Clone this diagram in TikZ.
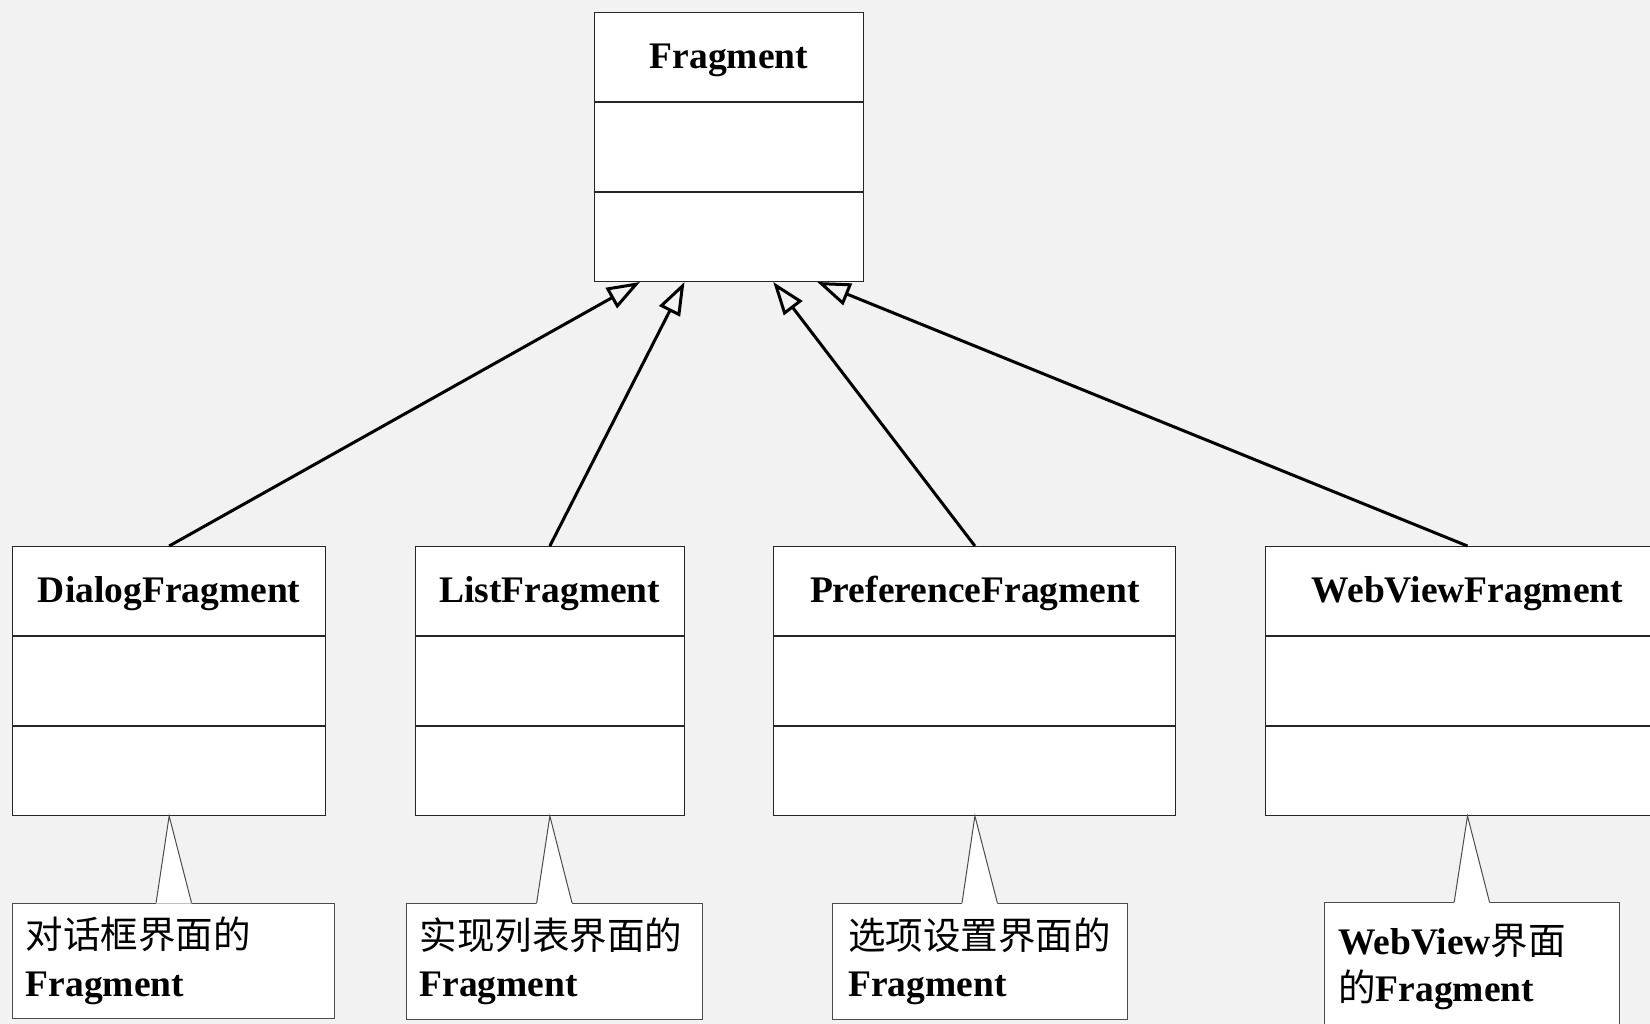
\documentclass[tikz,border=0pt]{standalone}
\usepackage{fontspec}
\setmainfont{Liberation Serif}
\newfontfamily\cjk{Noto Sans CJK SC}
\newcommand\zh[1]{{\cjk\mdseries #1}}
\usetikzlibrary{arrows.meta,calc}
\definecolor{bgc}{HTML}{F2F2F2}
\begin{document}
\begin{tikzpicture}[x=1pt,y=-1pt,
  every node/.style={font=\fontsize{37.5}{47.5}\selectfont\bfseries},
  row/.style={draw=black!85, line width=1pt, fill=white, anchor=north west, inner sep=0pt, minimum height=89pt, text height=26pt, text depth=3.6pt},
  note/.style={draw=black!70, line width=1pt, fill=white, anchor=north west, inner xsep=13pt, inner ysep=0pt, align=left, minimum height=115.5pt},
  gen/.style={line width=3pt, -{Triangle[open,length=33pt,width=23pt]}},
  tail/.style={draw=black!70, line width=1pt}
]
\path[use as bounding box, clip] (0,0) rectangle (1650,1024);
\fill[bgc] (0,0) rectangle (1650,1024);

% top class
\node[row, minimum width=269pt] (topT) at (594,12) {Fragment};
\node[row, minimum width=269pt] (topA) at (topT.south west) {};
\node[row, minimum width=269pt] (topO) at (topA.south west) {};

% subclasses
\node[row, minimum width=313.3pt] (dT) at (12,546) {DialogFragment};
\node[row, minimum width=313.3pt] (dA) at (dT.south west) {};
\node[row, minimum width=313.3pt] (dO) at (dA.south west) {};

\node[row, minimum width=268.7pt] (lT) at (415,546) {ListFragment};
\node[row, minimum width=268.7pt] (lA) at (lT.south west) {};
\node[row, minimum width=268.7pt] (lO) at (lA.south west) {};

\node[row, minimum width=402pt] (pT) at (773.4,546) {PreferenceFragment};
\node[row, minimum width=402pt] (pA) at (pT.south west) {};
\node[row, minimum width=402pt] (pO) at (pA.south west) {};

\node[row, minimum width=403.4pt] (wT) at (1265.3,546) {WebViewFragment};
\node[row, minimum width=403.4pt] (wA) at (wT.south west) {};
\node[row, minimum width=403.4pt] (wO) at (wA.south west) {};

% generalization arrows
\coordinate (t1) at ($(topO.south)+(-89,0)$);
\coordinate (t2) at ($(topO.south)+(-44.5,0)$);
\coordinate (t3) at ($(topO.south)+(44.2,0)$);
\coordinate (t4) at ($(topO.south)+(88.2,0)$);
\draw[gen] (dT.north) -- (t1);
\draw[gen] (lT.north) -- (t2);
\draw[gen] (pT.north) -- (t3);
\draw[gen] (wT.north) -- (t4);

% notes
\node[note, minimum width=322pt, text width=296pt] (dN) at (12.3,902.7) {\zh{对话框界面的}\\Fragment};
\node[note, minimum width=295.7pt, text width=269.7pt] (lN) at (406,903) {\zh{实现列表界面的}\\Fragment};
\node[note, minimum width=295pt, inner xsep=16pt, text width=263pt] (pN) at (831.7,903) {\zh{选项设置界面的}\\Fragment};
\node[note, minimum width=295.3pt, minimum height=128pt, inner xsep=14pt, text width=267.3pt] (wN) at (1323.7,902.3) {WebView\zh{界面}\\\zh{的}Fragment};

% note tails
\foreach \n/\c in {dN/dO, lN/lO, pN/pO, wN/wO}{
  \fill[white] ($(\n.north)+(-17.7,1)$) -- ($(\n.north)+(-17.7,0)$) -- (\c.south) -- ($(\n.north)+(17.7,0)$) -- ($(\n.north)+(17.7,1)$) -- cycle;
  \draw[tail] ($(\n.north)+(-17.7,0)$) -- (\c.south) -- ($(\n.north)+(17.7,0)$);
}
\end{tikzpicture}
\end{document}
